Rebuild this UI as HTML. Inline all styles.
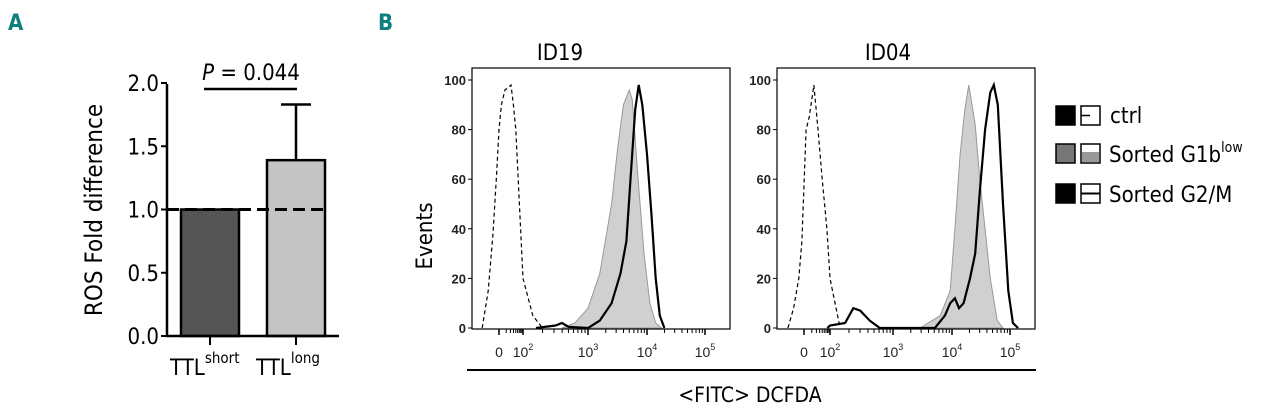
<!DOCTYPE html>
<html><head><meta charset="utf-8"><style>
html,body{margin:0;padding:0;background:#fff}
svg{display:block;font-family:"Liberation Sans",sans-serif}
.t{font-family:"DejaVu Sans Condensed","Liberation Sans",sans-serif}
</style></head><body>
<svg id="c" width="1280" height="412" viewBox="0 0 1280 412">
<text x="8" y="30" font-size="22" font-weight="bold" fill="#0e7f80" class="t">A</text>
<text x="378" y="30" font-size="22" font-weight="bold" fill="#0e7f80" class="t">B</text>
<g id="pa"></g>
<g id="pb"></g>
</svg>
<script>
// ---- Panel A data ----
const barCats = ["short", "long"];
const barValues = [1.0, 1.39];
const barErrors = [0, 0.44];
const barColors = ["#555555", "#c4c4c4"];
const yTicksA = [0, 0.5, 1.0, 1.5, 2.0];
const pLabel = "0.044";

// ---- Panel B data (t: display decade units; 1 = "0", 2 = 10^2 ...) ----
const ticksB = [1, 2, 3, 4, 5];
const tickLabelsB = ["0", "2", "3", "4", "5"];
const yTicksB = [0, 20, 40, 60, 80, 100];
const id19CtrlT = [0.3,0.55,0.75,0.9,1.0,1.1,1.25,1.4,1.5,1.6,1.7,1.8,1.9,2.0,2.15,2.3];
const id19CtrlV = [0,15,38,62,80,90,96,97,98,90,80,60,40,20,5,0];
const id19G1T = [2.6,2.8,3.0,3.2,3.4,3.5,3.6,3.7,3.75,3.85,3.95,4.05,4.15,4.25];
const id19G1V = [0,2,8,22,50,72,90,96,92,60,30,10,2,0];
const id19G2T = [2.2,2.5,2.6,2.7,3.0,3.2,3.4,3.55,3.65,3.72,3.8,3.86,3.92,4.0,4.08,4.15,4.22,4.3];
const id19G2V = [0,1,2,0.5,0,3,10,22,35,60,88,98,90,70,45,20,5,0];
const id04CtrlT = [0.38,0.6,0.8,0.92,1.08,1.2,1.38,1.54,1.7,1.88,2.0,2.16];
const id04CtrlV = [0,8,20,35,80,85,98,80,60,40,20,0];
const id04G1T = [3.46,3.8,3.97,4.05,4.14,4.22,4.29,4.4,4.48,4.66,4.78,4.88];
const id04G1V = [0,5,15,40,70,88,98,82,60,20,3,0];
const id04G2T = [1.9,2.0,2.24,2.37,2.48,2.63,2.79,3.5,3.71,3.88,3.97,4.05,4.12,4.2,4.31,4.4,4.48,4.57,4.66,4.72,4.79,4.88,4.97,5.05,5.14];
const id04G2V = [0,1,2,8,7,3,0,0,0,5,10,12,8,10,20,30,55,80,95,98,90,50,15,2,0];

const NS="http://www.w3.org/2000/svg";
function mk(parent,tag,attrs,txt){const e=document.createElementNS(NS,tag);for(const k in attrs)e.setAttribute(k,attrs[k]);if(txt!=null)e.textContent=txt;parent.appendChild(e);return e;}

// ---- Panel A ----
const pa=document.getElementById('pa');
const yA=v=>336-v*126.5;
const barX=[181,267], barW=58, tickX=[210,296];
yTicksA.forEach(v=>{
  const l=mk(pa,'line',{x1:161,x2:167,y1:yA(v),y2:yA(v),stroke:'#000','stroke-width':2});
  
  const t=mk(pa,'text',{x:159,y:yA(v)+8,'font-size':22,'text-anchor':'end',class:'t'},v.toFixed(1));
  
});
barValues.forEach((v,i)=>{
  if(barErrors[i]>0){
    const e=mk(pa,'line',{x1:tickX[i],x2:tickX[i],y1:yA(v),y2:yA(v+barErrors[i]),stroke:'#000','stroke-width':2.5});
    
    const c=mk(pa,'line',{x1:tickX[i]-15,x2:tickX[i]+15,y1:yA(v+barErrors[i]),y2:yA(v+barErrors[i]),stroke:'#000','stroke-width':2.5});
    
  }
  const r=mk(pa,'rect',{x:barX[i],y:yA(v),width:barW,height:yA(0)-yA(v),fill:barColors[i],stroke:'#000','stroke-width':2.5});
  
  const tk=mk(pa,'line',{x1:tickX[i],x2:tickX[i],y1:336,y2:345,stroke:'#000','stroke-width':2});
  
  const lb=mk(pa,'text',{x:tickX[i]-40,y:375,'font-size':22,class:'t'});
  
  mk(lb,'tspan',{},'TTL');mk(lb,'tspan',{dy:-12,'font-size':15},barCats[i]);
});
let ax=mk(pa,'path',{d:'M167 84 V336 H339',fill:'none',stroke:'#000','stroke-width':2.5});

let dl=mk(pa,'line',{x1:167,x2:328,y1:yA(1),y2:yA(1),stroke:'#000','stroke-width':3,'stroke-dasharray':'12,6'});

let pb1=mk(pa,'line',{x1:204,x2:297,y1:89,y2:89,stroke:'#000','stroke-width':2.5});

let pt=mk(pa,'text',{x:251,y:80,'font-size':22,'text-anchor':'middle',class:'t'});

mk(pt,'tspan',{'font-style':'italic'},'P');mk(pt,'tspan',{},' = '+pLabel);
let yl=mk(pa,'text',{x:0,y:0,'font-size':24,'text-anchor':'middle',class:'t',transform:'translate(102,210) rotate(-90)'},'ROS Fold difference');


// ---- Panel B ----
const pb=document.getElementById('pb');
function makeX(px){return t=>{let i=Math.min(Math.max(Math.floor(t)-1,0),3);return px[i]+(t-(i+1))*(px[i+1]-px[i]);};}
function hist(g,name,left,right,px,datasets,title,cx){
  const x=makeX(px), y=v=>328-v*2.48;
  const grp=mk(g,'g',{});
  const tt=mk(grp,'text',{x:cx,y:60,'font-size':22,'text-anchor':'middle',class:'t'},title);
  
  datasets.forEach(d=>{
    let pts=d.t.map((t,i)=>x(t).toFixed(1)+','+y(d.v[i]).toFixed(1));
    let p;
    if(d.fill){p=mk(grp,'path',{d:'M'+x(d.t[0])+','+y(0)+' L'+pts.join(' L')+' Z',fill:'#d0d0d0',stroke:'#999','stroke-width':1});}
    else p=mk(grp,'polyline',{points:pts.join(' '),fill:'none',stroke:'#000','stroke-width':d.w,'stroke-dasharray':d.dash||'none'});
    
  });
  const box=mk(grp,'rect',{x:left,y:68,width:right-left,height:261,fill:'none',stroke:'#000','stroke-width':1.2});
  
  yTicksB.forEach(v=>{
    const l=mk(grp,'line',{x1:left-4,x2:left,y1:y(v),y2:y(v),stroke:'#000','stroke-width':1});
    
    const t=mk(grp,'text',{x:left-6,y:y(v)+5,'font-size':13,'font-weight':'bold','text-anchor':'end',fill:'#222'},String(v));
    
  });
  ticksB.forEach((t,i)=>{
    const l=mk(grp,'line',{x1:x(t),x2:x(t),y1:329,y2:335,stroke:'#000','stroke-width':1.5});
    
    if(t>=2&&t<5)for(let k=2;k<10;k++){const mx=x(t+Math.log10(k));mk(grp,'line',{x1:mx,x2:mx,y1:329,y2:333,stroke:'#000','stroke-width':1});}
    const tl=mk(grp,'text',{x:x(t),y:357,'font-size':14,'text-anchor':'middle',fill:'#222'});
    
    if(i===0)tl.textContent='0';else{mk(tl,'tspan',{},'10');mk(tl,'tspan',{dy:-7,'font-size':9},tickLabelsB[i]);}
  });
  for(let k=2;k<10;k++){const mx=x(1+Math.log10(k)*1);mk(grp,'line',{x1:mx,x2:mx,y1:329,y2:333,stroke:'#000','stroke-width':1});}
}
hist(pb,'histogram-id19',472,730,[499,523,588,647,705],[
 {name:'sorted-g1b-low-fill',t:id19G1T,v:id19G1V,fill:true},
 {name:'ctrl-dashed-line',t:id19CtrlT,v:id19CtrlV,w:1.2,dash:'4,3'},
 {name:'sorted-g2m-line',t:id19G2T,v:id19G2V,w:2.2}],'ID19',560);
hist(pb,'histogram-id04',777,1035,[804,830,893,952,1010],[
 {name:'sorted-g1b-low-fill',t:id04G1T,v:id04G1V,fill:true},
 {name:'ctrl-dashed-line',t:id04CtrlT,v:id04CtrlV,w:1.2,dash:'4,3'},
 {name:'sorted-g2m-line',t:id04G2T,v:id04G2V,w:2.2}],'ID04',888);
let ev=mk(pb,'text',{x:0,y:0,'font-size':22,'text-anchor':'middle',class:'t',transform:'translate(432,236) rotate(-90)'},'Events');

let xl=mk(pb,'line',{x1:467,x2:1036,y1:370,y2:370,stroke:'#000','stroke-width':2});

let xt=mk(pb,'text',{x:750,y:402,'font-size':21,'text-anchor':'middle',class:'t'},'<FITC> DCFDA');


// legend
const lg=mk(pb,'g',{});
const rows=[{y:106,c:'#000',label:'ctrl',sup:''},{y:144,c:'#777',label:'Sorted G1b',sup:'low'},{y:184,c:'#000',label:'Sorted G2/M',sup:''}];
rows.forEach((r,i)=>{
  const e=mk(lg,'g',{});
  mk(e,'rect',{x:1056,y:r.y,width:19,height:19,fill:r.c,stroke:'#000','stroke-width':1.5});
  mk(e,'rect',{x:1081,y:r.y,width:19,height:19,fill:'#fff',stroke:'#000','stroke-width':1.5});
  if(i===0)mk(e,'line',{x1:1081,x2:1090,y1:r.y+9.5,y2:r.y+9.5,stroke:'#000','stroke-width':1.5});
  if(i===1)mk(e,'rect',{x:1082,y:r.y+8,width:17,height:10,fill:'#999'});
  if(i===2)mk(e,'line',{x1:1081,x2:1100,y1:r.y+9.5,y2:r.y+9.5,stroke:'#000','stroke-width':2});
  const t=mk(e,'text',{x:i===0?1110:1109,y:r.y+(i===0?17:18),'font-size':22,class:'t'});
  mk(t,'tspan',{},r.label);if(r.sup)mk(t,'tspan',{dy:-10,'font-size':14},r.sup);
});
</script>
</body></html>
